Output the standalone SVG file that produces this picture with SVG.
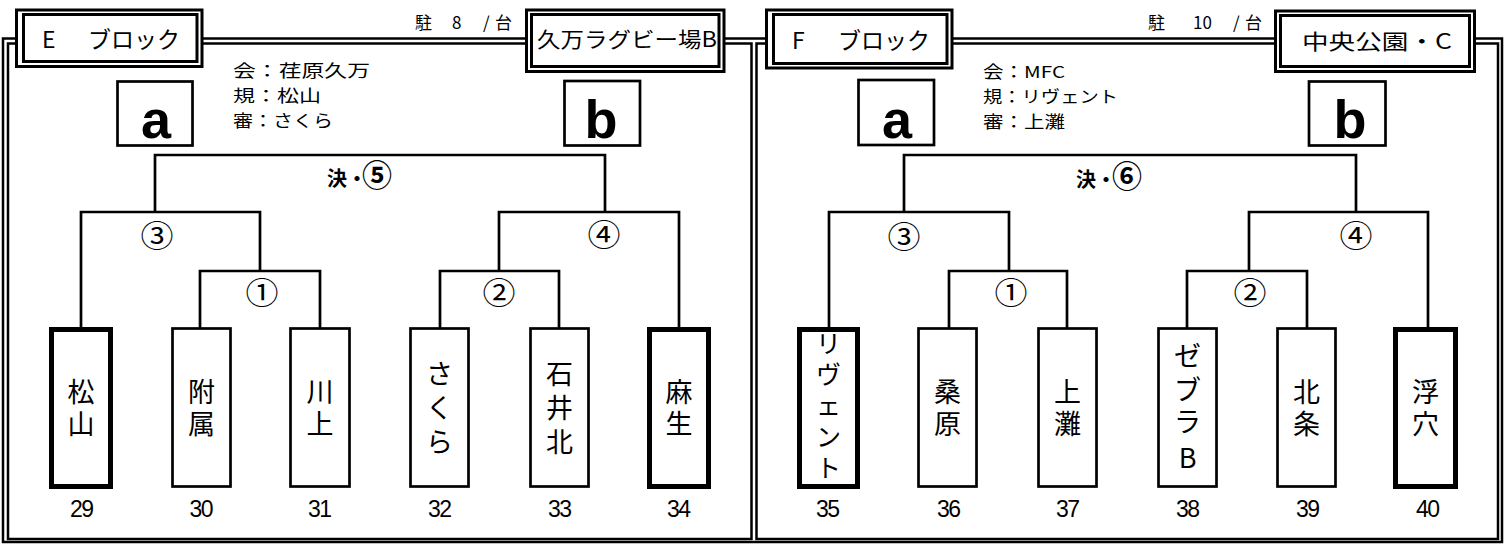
<svg xmlns="http://www.w3.org/2000/svg" width="1512" height="545" viewBox="0 0 1512 545">
<style>
.ln{fill:none;stroke:#000;stroke-width:2.7}
.bx{fill:#fff;stroke:#000;stroke-width:2.7}
.bxk{fill:#fff;stroke:#000;stroke-width:5}
.fr{fill:none;stroke:#000;stroke-width:2.5}
.hd{fill:#fff;stroke:#000;stroke-width:3}
.jp{font-family:"Noto Sans CJK JP","Noto Sans",sans-serif;fill:#000}
.nm{font-size:27px;text-anchor:middle}
.num{font-family:"Liberation Sans",Arial,sans-serif;font-size:23px;text-anchor:middle;fill:#000}
.ab{font-family:"Liberation Sans",Arial,sans-serif;font-weight:bold;font-size:54px;text-anchor:middle;fill:#000}
.info{font-size:16.5px}
.circ{font-size:31px;text-anchor:middle}
.ttl{font-size:23px}
.ven{font-size:21px}
.park{font-size:17px}
.fin{font-weight:bold}
</style>
<rect fill="#fff" width="1512" height="545"/>
<g id="frame">
<rect class="fr" x="3" y="38.5" width="1499" height="503.5"/>
<rect class="fr" x="8" y="43.5" width="743.5" height="495.5"/>
<rect class="fr" x="756.5" y="43.5" width="741.5" height="495.5"/>
</g>
<g id="connectors">
<path class="ln" d="M155,212V155H605V212"/>
<path class="ln" d="M81,327V212H260V271"/>
<path class="ln" d="M200,330V271H320V330"/>
<path class="ln" d="M679,327V212H499V271"/>
<path class="ln" d="M440,330V271H559V330"/>
<path class="ln" d="M904,212V155H1356V212"/>
<path class="ln" d="M829,327V212H1009V271"/>
<path class="ln" d="M949,330V271H1067V330"/>
<path class="ln" d="M1428,327V212H1249V271"/>
<path class="ln" d="M1187,330V271H1307V330"/>
</g>
<g id="e-title">
<rect class="hd" x="16.5" y="10" width="185.5" height="56.5"/>
<rect class="hd" x="23.5" y="14.5" width="173.5" height="47"/>
<text class="jp ttl" y="48"><tspan x="42">E</tspan><tspan x="88">ブロック</tspan></text>
</g>
<g id="e-parking">
<text class="jp park" y="29"><tspan x="415">駐</tspan><tspan x="452">8</tspan><tspan x="483">/</tspan><tspan x="495">台</tspan></text>
</g>
<g id="e-venue">
<rect class="hd" x="526.5" y="10" width="197.5" height="61.5"/>
<rect class="hd" x="531.5" y="14.5" width="187.5" height="52"/>
<text class="jp ven" x="537" y="47" textLength="180" lengthAdjust="spacingAndGlyphs">久万ラグビー場B</text>
</g>
<g id="e-info">
<text class="jp info" x="233" y="77" textLength="137" lengthAdjust="spacingAndGlyphs">会：荏原久万</text>
<text class="jp info" x="233" y="102" textLength="88" lengthAdjust="spacingAndGlyphs">規：松山</text>
<text class="jp info" x="233" y="127" textLength="100" lengthAdjust="spacingAndGlyphs">審：さくら</text>
</g>
<g id="e-a"><rect class="bx" x="117.5" y="81.5" width="75" height="64"/><text class="ab" x="156" y="137.5">a</text></g>
<g id="e-b"><rect class="bx" x="564.5" y="81" width="75.5" height="64.5"/><text class="ab" x="601" y="137.5">b</text></g>
<g id="e-labels">
<text class="jp fin" y="186"><tspan x="327" font-size="20">決・</tspan><tspan x="377" font-size="30" text-anchor="middle">⑤</tspan></text>
<text class="jp circ" x="157" y="247" textLength="33" lengthAdjust="spacingAndGlyphs">③</text>
<text class="jp circ" x="604" y="246" textLength="33" lengthAdjust="spacingAndGlyphs">④</text>
<text class="jp circ" x="262" y="304" textLength="33" lengthAdjust="spacingAndGlyphs">①</text>
<text class="jp circ" x="499" y="304" textLength="33" lengthAdjust="spacingAndGlyphs">②</text>
</g>
<g id="e29"><rect class="bxk" x="51.5" y="329.5" width="59" height="157"/><text class="jp nm" y="402"><tspan x="81">松</tspan><tspan x="81" dy="32">山</tspan></text><text class="num" x="82" y="517" textLength="24">29</text></g>
<g id="e30"><rect class="bx" x="172.5" y="328.5" width="58" height="158"/><text class="jp nm" y="402"><tspan x="201.5">附</tspan><tspan x="201.5" dy="32">属</tspan></text><text class="num" x="201.5" y="517" textLength="24">30</text></g>
<g id="e31"><rect class="bx" x="290.5" y="328.5" width="59" height="158"/><text class="jp nm" y="402"><tspan x="320">川</tspan><tspan x="320" dy="32">上</tspan></text><text class="num" x="320" y="517" textLength="24">31</text></g>
<g id="e32"><rect class="bx" x="410.5" y="328.5" width="58" height="158"/><text class="jp nm" y="384"><tspan x="439.5">さ</tspan><tspan x="439.5" dy="34">く</tspan><tspan x="439.5" dy="34">ら</tspan></text><text class="num" x="440" y="517" textLength="24">32</text></g>
<g id="e33"><rect class="bx" x="530.5" y="328.5" width="58" height="158"/><text class="jp nm" y="384"><tspan x="559.5">石</tspan><tspan x="559.5" dy="34">井</tspan><tspan x="559.5" dy="34">北</tspan></text><text class="num" x="560" y="517" textLength="24">33</text></g>
<g id="e34"><rect class="bxk" x="649.5" y="329.5" width="59" height="157"/><text class="jp nm" y="402"><tspan x="679">麻</tspan><tspan x="679" dy="32">生</tspan></text><text class="num" x="679" y="517" textLength="24">34</text></g>
<g id="f-title">
<rect class="hd" x="766.5" y="10" width="185.5" height="58"/>
<rect class="hd" x="773.5" y="14.5" width="173.5" height="49"/>
<text class="jp ttl" y="49"><tspan x="792">F</tspan><tspan x="838">ブロック</tspan></text>
</g>
<g id="f-parking">
<text class="jp park" y="29"><tspan x="1148">駐</tspan><tspan x="1193">10</tspan><tspan x="1233">/</tspan><tspan x="1245">台</tspan></text>
</g>
<g id="f-venue">
<rect class="hd" x="1275.5" y="11" width="199" height="60.5"/>
<rect class="hd" x="1280.5" y="15.5" width="189" height="51"/>
<text class="jp ven" x="1302" y="49" textLength="150" lengthAdjust="spacingAndGlyphs">中央公園・C</text>
</g>
<g id="f-info">
<text class="jp info" x="983" y="78" textLength="82" lengthAdjust="spacingAndGlyphs">会：MFC</text>
<text class="jp info" x="983" y="103" textLength="135" lengthAdjust="spacingAndGlyphs">規：リヴェント</text>
<text class="jp info" x="983" y="128" textLength="82" lengthAdjust="spacingAndGlyphs">審：上灘</text>
</g>
<g id="f-a"><rect class="bx" x="858.5" y="80" width="75.5" height="65"/><text class="ab" x="897" y="137.5">a</text></g>
<g id="f-b"><rect class="bx" x="1309" y="81.5" width="76.5" height="64"/><text class="ab" x="1350" y="137.5">b</text></g>
<g id="f-labels">
<text class="jp fin" y="187"><tspan x="1076" font-size="20">決・</tspan><tspan x="1127" font-size="30" text-anchor="middle">⑥</tspan></text>
<text class="jp circ" x="904" y="248" textLength="33" lengthAdjust="spacingAndGlyphs">③</text>
<text class="jp circ" x="1356" y="247" textLength="33" lengthAdjust="spacingAndGlyphs">④</text>
<text class="jp circ" x="1011" y="304" textLength="33" lengthAdjust="spacingAndGlyphs">①</text>
<text class="jp circ" x="1250" y="304" textLength="33" lengthAdjust="spacingAndGlyphs">②</text>
</g>
<g id="f35"><rect class="bxk" x="799.5" y="329.5" width="58" height="157"/><text class="jp" font-size="25" text-anchor="middle" y="353"><tspan x="828.5">リ</tspan><tspan x="828.5" dy="31">ヴ</tspan><tspan x="828.5" dy="31">ェ</tspan><tspan x="828.5" dy="31">ン</tspan><tspan x="828.5" dy="31">ト</tspan></text><text class="num" x="828" y="517" textLength="24">35</text></g>
<g id="f36"><rect class="bx" x="918.5" y="328.5" width="58" height="158"/><text class="jp nm" y="402"><tspan x="947.5">桑</tspan><tspan x="947.5" dy="32">原</tspan></text><text class="num" x="949" y="517" textLength="24">36</text></g>
<g id="f37"><rect class="bx" x="1038.5" y="328.5" width="58" height="158"/><text class="jp nm" y="402"><tspan x="1067.5">上</tspan><tspan x="1067.5" dy="32">灘</tspan></text><text class="num" x="1068" y="517" textLength="24">37</text></g>
<g id="f38"><rect class="bx" x="1158.5" y="328.5" width="58" height="158"/><text class="jp nm" y="366"><tspan x="1187.5">ゼ</tspan><tspan x="1187.5" dy="34">ブ</tspan><tspan x="1187.5" dy="32">ラ</tspan><tspan x="1187.5" dy="36">B</tspan></text><text class="num" x="1188" y="517" textLength="24">38</text></g>
<g id="f39"><rect class="bx" x="1277.5" y="328.5" width="58" height="158"/><text class="jp nm" y="402"><tspan x="1306.5">北</tspan><tspan x="1306.5" dy="32">条</tspan></text><text class="num" x="1308" y="517" textLength="24">39</text></g>
<g id="f40"><rect class="bxk" x="1395.5" y="329.5" width="60" height="157"/><text class="jp nm" y="402"><tspan x="1425.5">浮</tspan><tspan x="1425.5" dy="32">穴</tspan></text><text class="num" x="1428" y="517" textLength="24">40</text></g>
</svg>
